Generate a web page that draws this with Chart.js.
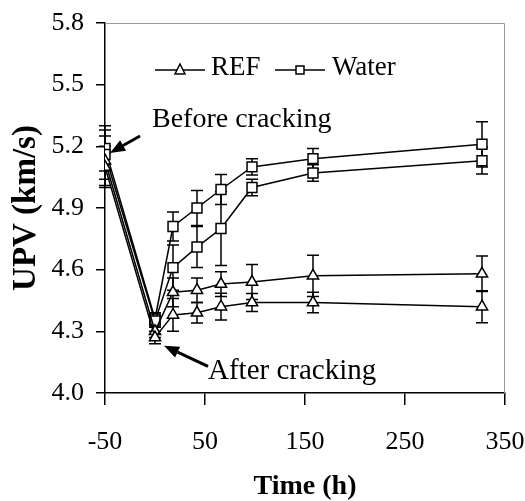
<!DOCTYPE html>
<html lang="en">
<head>
<meta charset="UTF-8">
<title>UPV vs Time</title>
<script src="https://cdn.jsdelivr.net/npm/chart.js"></script>
<style>
    body { margin: 0; background: #ffffff; overflow: hidden; }
</style>
</head>
<body>
<canvas id="upvChart" width="525" height="501"></canvas>
<script>
// time after cracking (h)
const hours = [-50, 0, 18, 42, 66, 97, 158, 327];

// UPV (km/s) and +/- error
const water1 = [5.19, 4.36, 4.81, 4.90, 4.99, 5.10, 5.14, 5.21];
const water1Err = [0.11, 0.03, 0.07, 0.085, 0.073, 0.04, 0.05, 0.11];
const water2 = [5.16, 4.35, 4.61, 4.71, 4.80, 5.00, 5.07, 5.13];
const water2Err = [0.12, 0.03, 0.11, 0.10, 0.18, 0.04, 0.04, 0.065];
const ref1 = [5.13, 4.30, 4.49, 4.50, 4.53, 4.54, 4.57, 4.58];
const ref1Err = [0.12, 0.03, 0.07, 0.06, 0.06, 0.085, 0.10, 0.086];
const ref2 = [5.10, 4.27, 4.38, 4.39, 4.42, 4.44, 4.44, 4.42];
const ref2Err = [0.10, 0.03, 0.08, 0.05, 0.065, 0.044, 0.05, 0.078];

const yTicks = [4.0, 4.3, 4.6, 4.9, 5.2, 5.5, 5.8];
const xTicks = [-50, 50, 150, 250, 350];

const serif = '"Liberation Serif", "Times New Roman", serif';

function series(vals, errs, style) {
    return {
        data: hours.map((h, i) => ({ x: h, y: vals[i] })),
        errors: errs,
        borderColor: '#000',
        borderWidth: 1.5,
        pointStyle: style,
        pointRadius: style === 'rect' ? 7 : 6.5,
        pointBackgroundColor: '#fff',
        pointBorderColor: '#000',
        pointBorderWidth: 1.5,
        tension: 0
    };
}

function arrow(ctx, x1, y1, x2, y2) {
    const ang = Math.atan2(y2 - y1, x2 - x1);
    const len = 15, half = 6;
    const bx = x2 - len * Math.cos(ang), by = y2 - len * Math.sin(ang);
    ctx.beginPath();
    ctx.moveTo(x1, y1);
    ctx.lineTo(bx, by);
    ctx.lineWidth = 3;
    ctx.stroke();
    ctx.beginPath();
    ctx.moveTo(x2, y2);
    ctx.lineTo(bx + half * Math.sin(ang), by - half * Math.cos(ang));
    ctx.lineTo(bx - half * Math.sin(ang), by + half * Math.cos(ang));
    ctx.closePath();
    ctx.fill();
}

// error bars go under the lines and markers
const errorBars = {
    id: 'errorBars',
    beforeDatasetsDraw(chart) {
        const { ctx, scales: { x, y } } = chart;
        ctx.save();
        ctx.strokeStyle = '#000';
        ctx.lineWidth = 1.5;
        chart.data.datasets.forEach(ds => {
            ds.data.forEach((p, i) => {
                const px = x.getPixelForValue(p.x);
                const top = y.getPixelForValue(p.y + ds.errors[i]);
                const bot = y.getPixelForValue(p.y - ds.errors[i]);
                ctx.beginPath();
                ctx.moveTo(px, top); ctx.lineTo(px, bot);
                ctx.moveTo(px - 6, top); ctx.lineTo(px + 6, top);
                ctx.moveTo(px - 6, bot); ctx.lineTo(px + 6, bot);
                ctx.stroke();
            });
        });
        ctx.restore();
    }
};

const extras = {
    id: 'extras',
    afterDraw(chart) {
        const { ctx, chartArea: a, scales: { x, y } } = chart;
        ctx.save();
        // grey frame top/right
        ctx.strokeStyle = '#999';
        ctx.lineWidth = 1;
        ctx.beginPath();
        ctx.moveTo(a.left, a.top + 0.5);
        ctx.lineTo(a.right - 0.5, a.top + 0.5);
        ctx.lineTo(a.right - 0.5, a.bottom);
        ctx.stroke();

        // legend
        ctx.strokeStyle = '#000';
        ctx.fillStyle = '#000';
        ctx.lineWidth = 1.5;
        ctx.font = '27px ' + serif;
        ctx.textBaseline = 'middle';
        const ly = 70;
        ctx.beginPath();
        ctx.moveTo(155, ly); ctx.lineTo(205, ly);
        ctx.moveTo(275, ly); ctx.lineTo(325, ly);
        ctx.stroke();
        ctx.fillStyle = '#fff';
        ctx.beginPath();
        ctx.moveTo(180, ly - 6); ctx.lineTo(185, ly + 4); ctx.lineTo(175, ly + 4); ctx.closePath();
        ctx.fill(); ctx.stroke();
        ctx.fillRect(296, ly - 4, 8, 8);
        ctx.strokeRect(296, ly - 4, 8, 8);
        ctx.fillStyle = '#000';
        ctx.fillText('REF', 211, ly - 2);
        ctx.fillText('Water', 332, ly - 2);

        // annotations
        ctx.font = '28px ' + serif;
        ctx.fillText('Before cracking', x.getPixelForValue(-3), y.getPixelForValue(5.33));
        ctx.font = '29px ' + serif;
        ctx.fillText('After cracking', x.getPixelForValue(53), y.getPixelForValue(4.103));
        arrow(ctx, x.getPixelForValue(-15), y.getPixelForValue(5.25),
                   x.getPixelForValue(-45), y.getPixelForValue(5.168));
        arrow(ctx, x.getPixelForValue(53), y.getPixelForValue(4.13),
                   x.getPixelForValue(9), y.getPixelForValue(4.23));
        ctx.restore();
    }
};

new Chart(document.getElementById('upvChart'), {
    type: 'line',
    data: {
        datasets: [
            series(ref2, ref2Err, 'triangle'),
            series(ref1, ref1Err, 'triangle'),
            series(water2, water2Err, 'rect'),
            series(water1, water1Err, 'rect')
        ]
    },
    options: {
        responsive: false,
        animation: false,
        layout: { padding: { top: 23, right: 20, left: 0, bottom: 0 } },
        plugins: { legend: { display: false }, tooltip: { enabled: false } },
        scales: {
            x: {
                type: 'linear',
                min: -50,
                max: 350,
                afterBuildTicks: s => { s.ticks = xTicks.map(v => ({ value: v })); },
                afterFit: s => { s.height = 108; s.paddingLeft = 0; s.paddingRight = 0; },
                ticks: { color: '#000', font: { family: serif, size: 26 }, padding: 22, maxRotation: 0 },
                grid: { drawOnChartArea: false, drawTicks: true, tickLength: 12, color: '#000', lineWidth: 1.5 },
                border: { color: '#000', width: 1.5 },
                title: {
                    display: true, text: 'Time (h)', color: '#000',
                    font: { family: serif, size: 28, weight: 'bold', lineHeight: 1 },
                    padding: { top: 0, bottom: 0 }
                }
            },
            y: {
                min: 4.0,
                max: 5.8,
                afterBuildTicks: s => { s.ticks = yTicks.map(v => ({ value: v })); },
                afterFit: s => { s.width = 105; s.paddingTop = 0; s.paddingBottom = 0; },
                ticks: { color: '#000', font: { family: serif, size: 26 }, padding: 12, callback: v => v.toFixed(1) },
                grid: { drawOnChartArea: false, drawTicks: true, tickLength: 9, color: '#000', lineWidth: 1.5 },
                border: { color: '#000', width: 1.5 },
                title: {
                    display: true, text: 'UPV (km/s)', color: '#000',
                    font: { family: serif, size: 33, weight: 'bold', lineHeight: 1 },
                    padding: { top: 10, bottom: 0 }
                }
            }
        }
    },
    plugins: [errorBars, extras]
});
</script>
</body>
</html>
